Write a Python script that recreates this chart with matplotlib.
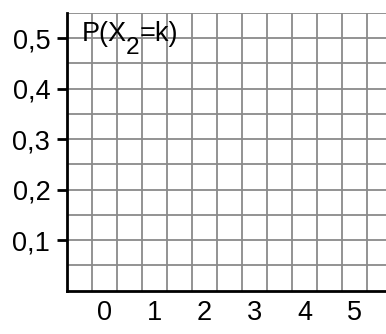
import matplotlib
matplotlib.use("Agg")
from matplotlib import pyplot as plt
import numpy as np

# values of k on the x axis, probability ticks on the y axis
k_values = [0, 1, 2, 3, 4, 5]
p_ticks = [0.1, 0.2, 0.3, 0.4, 0.5]
p_labels = ["0,1", "0,2", "0,3", "0,4", "0,5"]
title_parts = ["P(X", "2", "=k)"]

plt.rcParams['font.family'] = ['Liberation Sans', 'DejaVu Sans']

fig = plt.figure(figsize=(3.86, 3.34), dpi=100)
ax = fig.add_axes([67/386, 43.5/334, 1 - 67/386, (290.5 - 13)/334])

ax.set_xlim(-0.75, 5.63)
ax.set_ylim(0, 0.55)

# squared paper
for x in np.arange(-0.25, 5.5, 0.5):
    ax.axvline(x, color='#8a8a8a', lw=1.3, zorder=1)
for y in np.arange(0.05, 0.56, 0.05):
    ax.axhline(y, color='#8a8a8a', lw=1.3, zorder=1)

ax.spines['top'].set_visible(False)
ax.spines['right'].set_visible(False)
ax.spines['left'].set_linewidth(2)
ax.spines['bottom'].set_linewidth(2)
ax.spines['left'].set_zorder(3)
ax.spines['bottom'].set_zorder(3)

fs = 19.5
ax.set_xticks(k_values)
ax.set_xticklabels([str(k) for k in k_values])
ax.set_yticks(p_ticks)
ax.set_yticklabels(p_labels)
ax.tick_params(axis='x', length=0, pad=7, labelsize=fs)
ax.tick_params(axis='y', length=7, width=2, pad=5, labelsize=fs, direction='out')

# title with a near full size subscript
t1 = ax.text(-0.45, 0.495, title_parts[0], fontsize=fs, va='baseline', ha='left', zorder=4)
t2 = ax.annotate(title_parts[1], xy=(1, 0), xycoords=t1, xytext=(-1, -9),
                 textcoords='offset points', fontsize=fs * 0.9, va='bottom', ha='left', zorder=4)
t3 = ax.annotate(title_parts[2], xy=(1, 0), xycoords=t2, xytext=(0, 9),
                 textcoords='offset points', fontsize=fs, va='bottom', ha='left', zorder=4)

fig.savefig("out.png", dpi=100)
